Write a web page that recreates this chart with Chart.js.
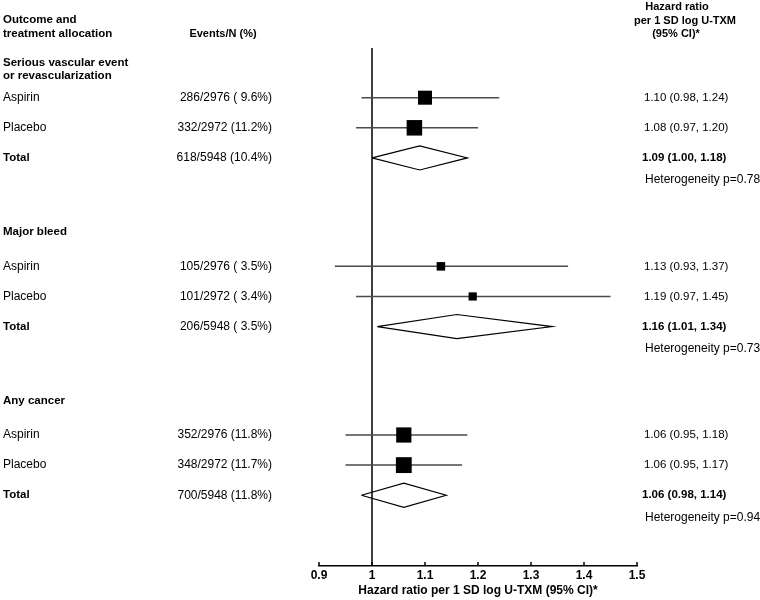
<!DOCTYPE html>
<html>
<head>
<meta charset="utf-8">
<script src="https://cdn.jsdelivr.net/npm/chart.js@4/dist/chart.umd.min.js"></script>
<style>
  html, body { margin: 0; padding: 0; background: #fff; }
</style>
</head>
<body>
<canvas id="forest" width="760" height="600"></canvas>
<script>
const outcomes = [["Serious vascular event", "or revascularization"], ["Major bleed"], ["Any cancer"]];
const groups = ["Aspirin", "Placebo", "Total"];
const events = [
    ["286/2976 ( 9.6%)", "332/2972 (11.2%)", "618/5948 (10.4%)"],
    ["105/2976 ( 3.5%)", "101/2972 ( 3.4%)", "206/5948 ( 3.5%)"],
    ["352/2976 (11.8%)", "348/2972 (11.7%)", "700/5948 (11.8%)"]
];
const hr    = [[1.10, 1.08, 1.09], [1.13, 1.19, 1.16], [1.06, 1.06, 1.06]];
const lower = [[0.98, 0.97, 1.00], [0.93, 0.97, 1.01], [0.95, 0.95, 0.98]];
const upper = [[1.24, 1.20, 1.18], [1.37, 1.45, 1.34], [1.18, 1.17, 1.14]];
const heterogeneity = ["0.78", "0.73", "0.94"];
const xTicks = [0.9, 1, 1.1, 1.2, 1.3, 1.4, 1.5];
const xTitle = "Hazard ratio per 1 SD log U-TXM (95% CI)*";

const FONT = "'Liberation Sans', Arial, Helvetica, sans-serif";
Chart.defaults.font.family = FONT;

// vertical layout in row units (y axis is hidden, reversed)
const headerY = k => 0.5 + 5.6 * k;
const rowY = (k, j) => headerY(k) + 1.15 + j;
const fmt = v => v.toFixed(2);

const ciSets = [], squares = [], sizes = [], diamonds = [];
outcomes.forEach((o, k) => {
    for (let j = 0; j < 2; j++) {
        ciSets.push({
            type: "line", order: 2,
            data: [{ x: lower[k][j], y: rowY(k, j) }, { x: upper[k][j], y: rowY(k, j) }],
            borderColor: "#4a4a4a", borderWidth: 1.5, pointRadius: 0
        });
        squares.push({ x: hr[k][j], y: rowY(k, j) });
        // box side inversely proportional to log CI width
        const side = 3.3 / Math.log(upper[k][j] / lower[k][j]);
        sizes.push(side / Math.SQRT2);
    }
    const y = rowY(k, 2), h = 0.4;
    diamonds.push({
        type: "line", order: 1,
        data: [
            { x: lower[k][2], y: y }, { x: hr[k][2], y: y - h },
            { x: upper[k][2], y: y }, { x: hr[k][2], y: y + h },
            { x: lower[k][2], y: y }
        ],
        borderColor: "#000", borderWidth: 1.2, pointRadius: 0, fill: false, tension: 0
    });
});

const textPlugin = {
    id: "forestText",
    afterDraw(chart) {
        const ctx = chart.ctx, ys = chart.scales.y, xs = chart.scales.x;
        const yp = v => ys.getPixelForValue(v);
        ctx.save();
        ctx.fillStyle = "#000";
        ctx.textBaseline = "middle";

        // upward tick marks on the x axis
        ctx.strokeStyle = "#000";
        ctx.lineWidth = 1.5;
        xTicks.forEach(v => {
            const px = xs.getPixelForValue(v);
            ctx.beginPath();
            ctx.moveTo(px, xs.top);
            ctx.lineTo(px, xs.top - 4);
            ctx.stroke();
        });

        const bold = "bold 12px " + FONT, normal = "12px " + FONT;
        const hBold = "bold 11.5px " + FONT, sBold = "bold 11px " + FONT;

        // column headers
        ctx.font = hBold;
        ctx.textAlign = "left";
        ctx.fillText("Outcome and", 3, 20);
        ctx.fillText("treatment allocation", 3, 34);
        ctx.font = sBold;
        ctx.textAlign = "center";
        ctx.fillText("Events/N (%)", 223, 34);
        ctx.fillText("Hazard ratio", 677, 7);
        ctx.fillText("per 1 SD log U-TXM", 685, 21);
        ctx.fillText("(95% CI)*", 676, 34);

        outcomes.forEach((o, k) => {
            ctx.font = hBold;
            ctx.textAlign = "left";
            o.forEach((line, i) => ctx.fillText(line, 3, yp(headerY(k) + i * 0.43)));
            groups.forEach((g, j) => {
                const y = yp(rowY(k, j));
                const isTotal = j === 2;
                ctx.font = isTotal ? hBold : normal;
                ctx.textAlign = "left";
                ctx.fillText(g, 3, y);
                ctx.font = normal;
                ctx.textAlign = "right";
                ctx.fillText(events[k][j], 272, y);
                ctx.font = isTotal ? "bold 11.5px " + FONT : "11.5px " + FONT;
                ctx.textAlign = "left";
                ctx.fillText(fmt(hr[k][j]) + " (" + fmt(lower[k][j]) + ", " + fmt(upper[k][j]) + ")", isTotal ? 642 : 644, y);
            });
            ctx.font = normal;
            ctx.textAlign = "left";
            ctx.fillText("Heterogeneity p=" + heterogeneity[k], 645, yp(rowY(k, 2) + 0.73));
        });
        ctx.restore();
    }
};

new Chart(document.getElementById("forest"), {
    type: "scatter",
    data: {
        datasets: [
            {
                order: 0,
                data: squares,
                pointStyle: "rect",
                pointRadius: sizes,
                backgroundColor: "#000",
                borderColor: "#000",
                borderWidth: 0
            },
            ...diamonds,
            ...ciSets,
            {
                type: "line", order: 3,
                data: [{ x: 1, y: 0 }, { x: 1, y: 17.2 }],
                borderColor: "#000", borderWidth: 1.5, pointRadius: 0
            }
        ]
    },
    options: {
        responsive: false,
        devicePixelRatio: 1,
        animation: false,
        layout: { padding: { left: 319, right: 123, top: 48, bottom: 0 } },
        plugins: { legend: { display: false }, tooltip: { enabled: false } },
        scales: {
            x: {
                type: "linear",
                min: 0.9, max: 1.5,
                afterBuildTicks: s => { s.ticks = xTicks.map(v => ({ value: v })); },
                afterFit: s => { s.height = 34; },
                grid: { display: false, drawTicks: false, tickLength: 0 },
                border: { display: true, color: "#000", width: 1.5 },
                ticks: {
                    color: "#000", padding: 2,
                    font: { size: 12, weight: "bold" },
                    callback: v => String(+v.toFixed(1))
                },
                title: {
                    display: true, text: xTitle, color: "#000",
                    font: { size: 12, weight: "bold" },
                    padding: { top: 0, bottom: 2 }
                }
            },
            y: {
                type: "linear",
                display: false,
                min: 0, max: 17.2,
                reverse: true
            }
        }
    },
    plugins: [textPlugin]
});
</script>
</body>
</html>
